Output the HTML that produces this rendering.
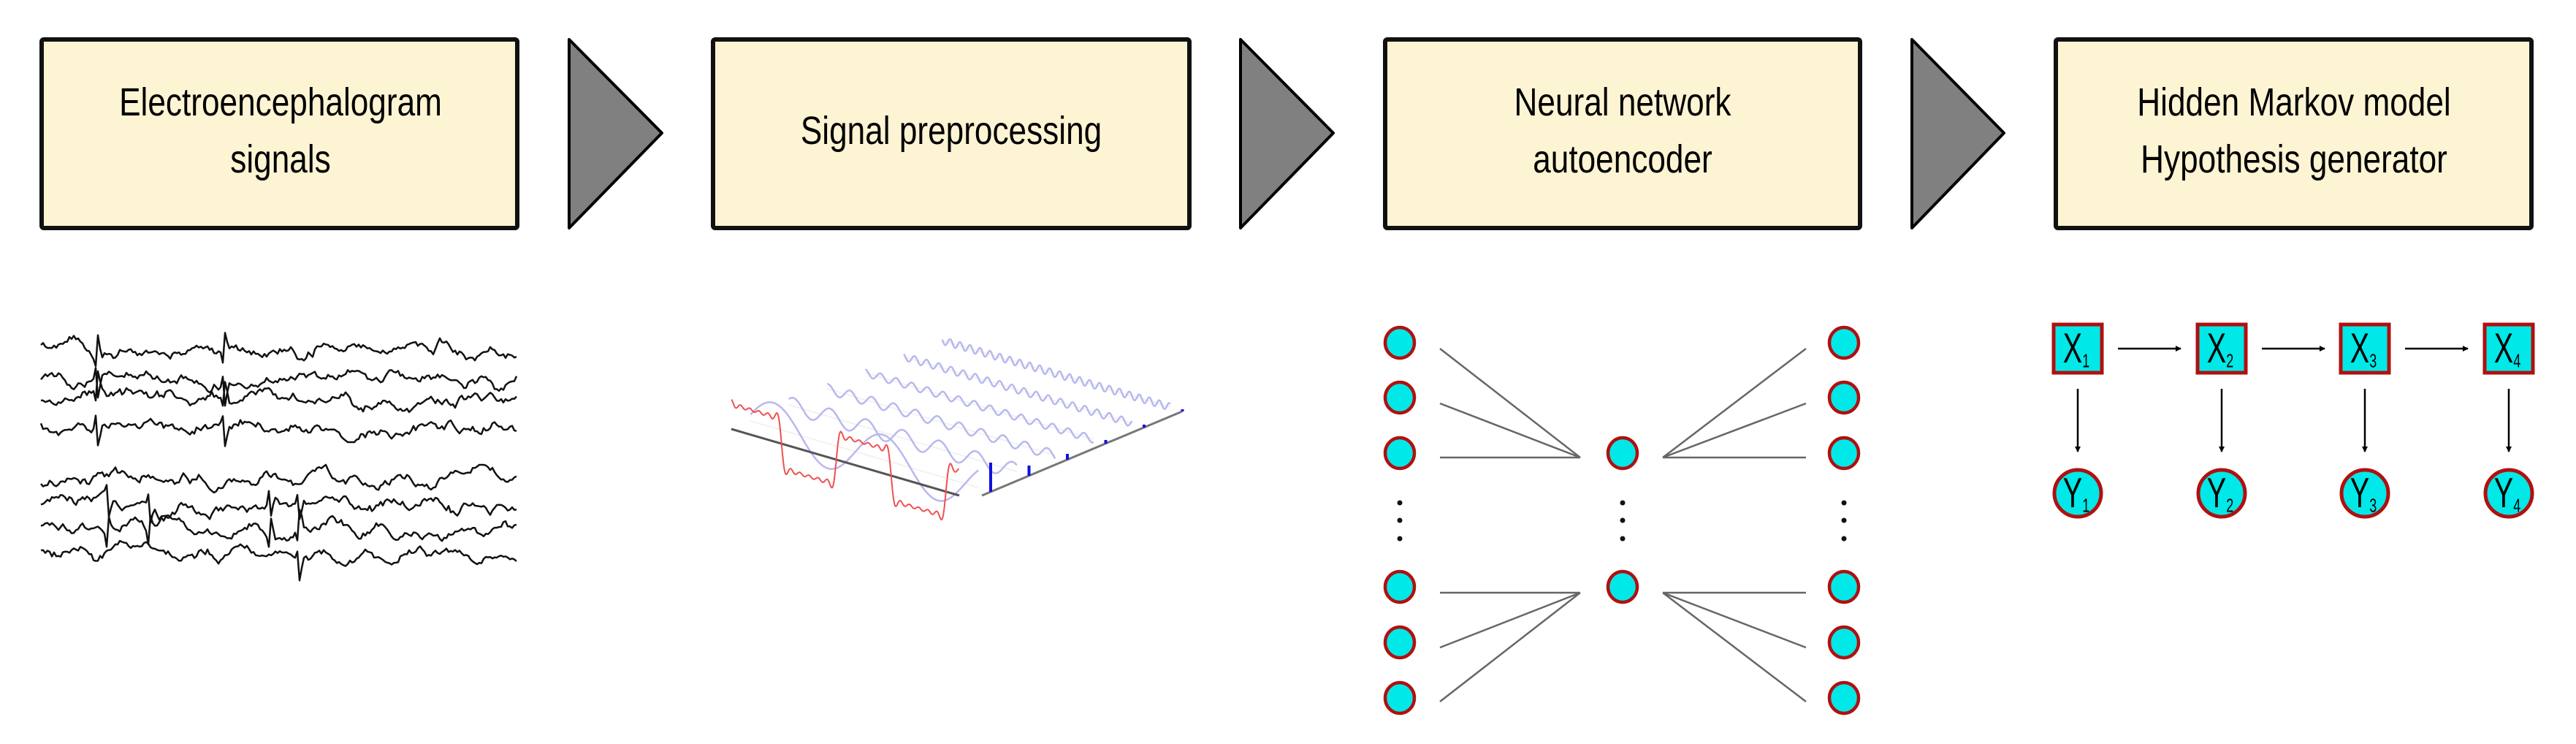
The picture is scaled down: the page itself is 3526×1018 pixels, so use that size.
<!DOCTYPE html>
<html><head><meta charset="utf-8"><style>
html,body{margin:0;padding:0;background:#fff}
svg{display:block}
text{font-family:"Liberation Sans",Arial,sans-serif}
</style></head><body>
<svg id="s" width="3526" height="1018" viewBox="0 0 3526 1018" xmlns="http://www.w3.org/2000/svg">
<defs><marker id="ah" markerWidth="8" markerHeight="8" refX="7" refY="4" orient="auto" markerUnits="userSpaceOnUse"><path d="M0,0 L8,4 L0,8 z" fill="#000"/></marker></defs>
<g stroke="#111" stroke-width="6" fill="#fdf4d3">
<rect x="57" y="54" width="651" height="258" rx="3"/>
<rect x="976" y="54" width="652" height="258" rx="3"/>
<rect x="1896" y="54" width="650" height="258" rx="3"/>
<rect x="2814" y="54" width="651" height="258" rx="3"/>
</g>
<g fill="#808080" stroke="#000" stroke-width="4" stroke-linejoin="round">
<polygon points="779,54 906,182 779,312"/>
<polygon points="1698,54 1825,182 1698,312"/>
<polygon points="2617,54 2743,182 2617,312"/>
</g>
<g font-size="48" text-anchor="middle" fill="#000">
<text transform="translate(384,158) scale(0.92,1.12)">Electroencephalogram</text>
<text transform="translate(384,236) scale(0.92,1.12)">signals</text>
<text transform="translate(1302,197) scale(0.92,1.12)">Signal preprocessing</text>
<text transform="translate(2221,158) scale(0.92,1.12)">Neural network</text>
<text transform="translate(2221,236) scale(0.92,1.12)">autoencoder</text>
<text transform="translate(3140,158) scale(0.92,1.12)">Hidden Markov model</text>
<text transform="translate(3140,236) scale(0.92,1.12)">Hypothesis generator</text>
</g>
<g id="eeg" fill="none" stroke="#111" stroke-width="2.5" stroke-linejoin="round"></g>
<g id="pre" fill="none"></g>
<g stroke="#666" stroke-width="2.5">
<line x1="1971" y1="477" x2="2163" y2="626"/><line x1="1971" y1="552" x2="2163" y2="626"/><line x1="1971" y1="626" x2="2163" y2="626"/>
<line x1="1971" y1="811" x2="2163" y2="811"/><line x1="1971" y1="886" x2="2163" y2="811"/><line x1="1971" y1="960" x2="2163" y2="811"/>
<line x1="2472" y1="477" x2="2276" y2="626"/><line x1="2472" y1="552" x2="2276" y2="626"/><line x1="2472" y1="626" x2="2276" y2="626"/>
<line x1="2472" y1="811" x2="2276" y2="811"/><line x1="2472" y1="886" x2="2276" y2="811"/><line x1="2472" y1="960" x2="2276" y2="811"/>
</g>
<g fill="#00e8e8" stroke="#b01010" stroke-width="4.5">
<ellipse cx="1916" cy="469" rx="20" ry="21"/><ellipse cx="1916" cy="544" rx="20" ry="21"/><ellipse cx="1916" cy="620" rx="20" ry="21"/>
<ellipse cx="1916" cy="803" rx="20" ry="21"/><ellipse cx="1916" cy="879" rx="20" ry="21"/><ellipse cx="1916" cy="955" rx="20" ry="21"/>
<ellipse cx="2221" cy="620" rx="20" ry="21"/><ellipse cx="2221" cy="803" rx="20" ry="21"/>
<ellipse cx="2524" cy="469" rx="20" ry="21"/><ellipse cx="2524" cy="544" rx="20" ry="21"/><ellipse cx="2524" cy="620" rx="20" ry="21"/>
<ellipse cx="2524" cy="803" rx="20" ry="21"/><ellipse cx="2524" cy="879" rx="20" ry="21"/><ellipse cx="2524" cy="955" rx="20" ry="21"/>
</g>
<g fill="#111">
<circle cx="1916" cy="688" r="3.5"/><circle cx="1916" cy="712" r="3.5"/><circle cx="1916" cy="737" r="3.5"/>
<circle cx="2221" cy="688" r="3.5"/><circle cx="2221" cy="712" r="3.5"/><circle cx="2221" cy="737" r="3.5"/>
<circle cx="2524" cy="688" r="3.5"/><circle cx="2524" cy="712" r="3.5"/><circle cx="2524" cy="737" r="3.5"/>
</g>
<g stroke="#000" stroke-width="2.5" marker-end="url(#ah)">
<line x1="2899" y1="477" x2="2985" y2="477"/><line x1="3096" y1="477" x2="3182" y2="477"/><line x1="3292" y1="477" x2="3378" y2="477"/>
<line x1="2844" y1="532" x2="2844" y2="618"/><line x1="3041" y1="532" x2="3041" y2="618"/><line x1="3237" y1="532" x2="3237" y2="618"/><line x1="3434" y1="532" x2="3434" y2="618"/>
</g>
<g fill="#00e8e8" stroke="#b01010" stroke-width="5">
<rect x="2811" y="444" width="66" height="66"/><rect x="3008" y="444" width="66" height="66"/><rect x="3204" y="444" width="66" height="66"/><rect x="3401" y="444" width="66" height="66"/>
<circle cx="2844" cy="675" r="32"/><circle cx="3041" cy="675" r="32"/><circle cx="3237" cy="675" r="32"/><circle cx="3434" cy="675" r="32"/>
</g>
<g font-size="44" fill="#000" text-anchor="middle">
<text transform="translate(2842,496) scale(0.9,1.3)">X<tspan font-size="20" dy="5">1</tspan></text>
<text transform="translate(3039,496) scale(0.9,1.3)">X<tspan font-size="20" dy="5">2</tspan></text>
<text transform="translate(3235,496) scale(0.9,1.3)">X<tspan font-size="20" dy="5">3</tspan></text>
<text transform="translate(3432,496) scale(0.9,1.3)">X<tspan font-size="20" dy="5">4</tspan></text>
<text transform="translate(2842,694) scale(0.9,1.3)">Y<tspan font-size="20" dy="5">1</tspan></text>
<text transform="translate(3039,694) scale(0.9,1.3)">Y<tspan font-size="20" dy="5">2</tspan></text>
<text transform="translate(3235,694) scale(0.9,1.3)">Y<tspan font-size="20" dy="5">3</tspan></text>
<text transform="translate(3432,694) scale(0.9,1.3)">Y<tspan font-size="20" dy="5">4</tspan></text>
</g>
</svg>
<script>
(function(){
var NS="http://www.w3.org/2000/svg";
function P(g,d,attrs){var p=document.createElementNS(NS,"path");p.setAttribute("d",d);for(var k in attrs)p.setAttribute(k,attrs[k]);g.appendChild(p);}
var seed=11;function r(){seed=(seed*16807)%2147483647;return seed/2147483647;}
var eeg=document.getElementById("eeg");
var bases=[477,517,551,585,656,691,726,760];
var spikes=[[134,308],[134,308],[134,308],[134,308],[],[148,205,370,410],[148,205,370,410],[410]];
for(var i=0;i<8;i++){
 var y=bases[i],d="",v=0,w=0,x;
 for(x=56;x<=709;x+=3){
  w+=(r()-0.5)*3; w*=0.93;
  v+=(r()-0.5)*9; v*=0.7;
  var s=w*3+Math.sin(x*0.11+i*1.7)*4;
  var sp=0;
  for(var j=0;j<spikes[i].length;j++){var dx=x-spikes[i][j];if(Math.abs(dx)<6)sp=(dx<0?-1:1)*26*(1-Math.abs(dx)/6)*(i%2?1:-1);}
  var yy=Math.max(-20,Math.min(20,v+s));
  d+=(x==56?"M":"L")+x+","+(y+yy+sp).toFixed(1);
 }
 P(eeg,d,{});
}
var g=document.getElementById("pre");
var ax=[1001,587],au=[312,91],off=[52.5,-22];
function sq(t){var s=0;for(var n=1;n<=11;n+=2)s+=Math.sin(2*Math.PI*2.08*n*(t+0.02))/n;return s*4/Math.PI;}
for(var k=6;k>=1;k--){
 var n=2*k-1,A=Math.max(34/n,5),d="";
 for(var t=0;t<=1.0001;t+=0.002){
  var bx=ax[0]+au[0]*t+(k-0.5)*off[0],by=ax[1]+au[1]*t+(k-0.5)*off[1];
  d+=(t==0?"M":"L")+bx.toFixed(1)+","+(by-A*Math.sin(2*Math.PI*2.08*n*(t+0.02))).toFixed(1);
 }
 P(g,"M"+(ax[0]+(k-0.5)*off[0])+","+(ax[1]+(k-0.5)*off[1])+" l"+au[0]+","+au[1],{stroke:"#eeeeee","stroke-width":"1.5"});
 P(g,d,{stroke:"#b8b8f0","stroke-width":"2.5"});
}
P(g,"M1001,587 L1313,678",{stroke:"#555","stroke-width":"3"});
var dr="";
for(var t=0;t<=1.0001;t+=0.0015){dr+=(t==0?"M":"L")+(ax[0]+au[0]*t).toFixed(1)+","+(ax[1]+au[1]*t-40*sq(t)*0.85).toFixed(1);}
P(g,dr,{stroke:"#f05050","stroke-width":"2"});
P(g,"M1344,678 L1618,563",{stroke:"#777","stroke-width":"3"});
var hs=[40,14,8,5,4,3];
for(var k=0;k<6;k++){var sx=1356+k*52.5,sy=673-k*22;P(g,"M"+sx+","+sy+" l0,-"+hs[k],{stroke:"#1010e0","stroke-width":"4"});}
})();
</script>
</body></html>
